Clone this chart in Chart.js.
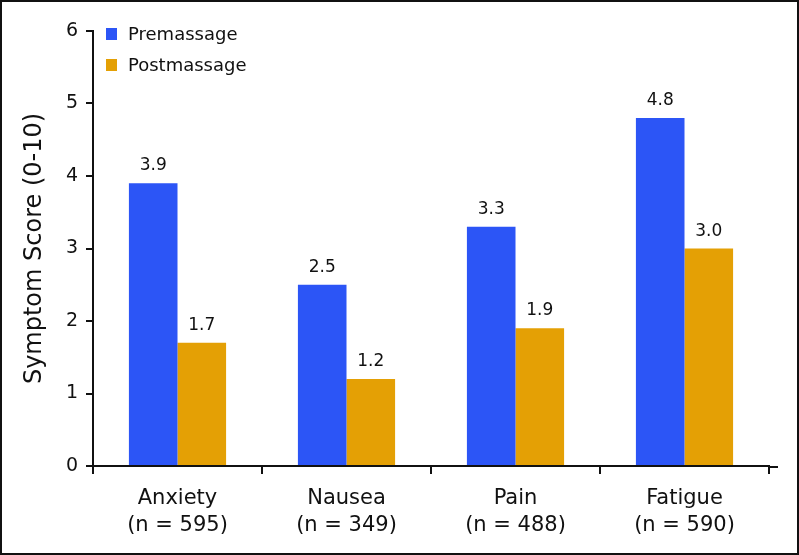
<!DOCTYPE html>
<html>
<head>
    <meta charset="utf-8">
    <title>Symptom Score</title>
    <script src="https://cdn.jsdelivr.net/npm/chart.js"></script>
    <style>
        html, body { margin: 0; padding: 0; background: #fff; }
        #wrap { width: 799px; height: 555px; }
    </style>
</head>
<body>
    <div id="wrap"><canvas id="barChart" width="799" height="555"></canvas></div>

    <script>
      // adatok
      const categories = [['Anxiety', '(n = 595)'], ['Nausea', '(n = 349)'], ['Pain', '(n = 488)'], ['Fatigue', '(n = 590)']];
      const premassage = [3.9, 2.5, 3.3, 4.8];
      const postmassage = [1.7, 1.2, 1.9, 3.0];
      const yTicks = [0, 1, 2, 3, 4, 5, 6];

      const FONT = "'DejaVu Sans', sans-serif";

      // ertekek a oszlopok folott
      const valueLabels = {
        id: 'valueLabels',
        afterDatasetsDraw(chart) {
          const ctx = chart.ctx;
          ctx.save();
          ctx.font = '17px ' + FONT;
          ctx.fillStyle = '#111';
          ctx.textAlign = 'center';
          ctx.textBaseline = 'alphabetic';
          chart.data.datasets.forEach((ds, i) => {
            chart.getDatasetMeta(i).data.forEach((bar, j) => {
              ctx.fillText(ds.data[j].toFixed(1), bar.x, bar.y - 13);
            });
          });
          ctx.restore();
        }
      };

      // jelmagyarazat a diagramon belul + keret
      const insideLegend = {
        id: 'insideLegend',
        afterDraw(chart) {
          const ctx = chart.ctx;
          const area = chart.chartArea;
          ctx.save();
          ctx.font = '18px ' + FONT;
          ctx.textBaseline = 'middle';
          chart.data.datasets.forEach((ds, i) => {
            const y = 34 + i * 31;
            ctx.fillStyle = ds.backgroundColor;
            ctx.fillRect(area.left + 13, y - 6, 11, 12);
            ctx.fillStyle = '#111';
            ctx.fillText(ds.label, area.left + 35, y + 1);
          });
          // x tengely kicsit tovabb megy
          ctx.strokeStyle = '#111';
          ctx.lineWidth = 2;
          ctx.beginPath();
          ctx.moveTo(area.right - 1, area.bottom + 1);
          ctx.lineTo(area.right + 9, area.bottom + 1);
          ctx.stroke();
          // keret
          ctx.strokeRect(1, 1, 797, 553);
          ctx.restore();
        }
      };

      const ctx = document.getElementById('barChart').getContext('2d');
      new Chart(ctx, {
        type: 'bar',
        data: {
          labels: categories,
          datasets: [
            { label: 'Premassage', data: premassage, backgroundColor: '#2c55f6' },
            { label: 'Postmassage', data: postmassage, backgroundColor: '#e4a005' }
          ]
        },
        options: {
          responsive: false,
          animation: false,
          events: [],
          layout: { padding: { top: 31, right: 30, bottom: 0, left: 0 } },
          categoryPercentage: 0.575,
          barPercentage: 1.0,
          plugins: {
            legend: { display: false },
            tooltip: { enabled: false }
          },
          scales: {
            x: {
              offset: true,
              grid: {
                offset: true,
                drawOnChartArea: false,
                drawTicks: true,
                tickLength: 8,
                color: '#111',
                lineWidth: 2
              },
              border: { display: true, color: '#111', width: 2 },
              ticks: {
                color: '#111',
                font: { family: FONT, size: 21, lineHeight: 1.29 },
                padding: 11,
                maxRotation: 0
              },
              afterFit(scale) { scale.height = 89; }
            },
            y: {
              min: 0,
              max: 6,
              afterBuildTicks(scale) { scale.ticks = yTicks.map(v => ({ value: v })); },
              grid: {
                drawOnChartArea: false,
                drawTicks: true,
                tickLength: 7,
                color: '#111',
                lineWidth: 2
              },
              border: { display: true, color: '#111', width: 2 },
              ticks: {
                color: '#111',
                font: { family: FONT, size: 19 },
                padding: 8
              },
              title: {
                display: true,
                text: 'Symptom Score (0-10)',
                color: '#111',
                font: { family: FONT, size: 24 },
                padding: { top: 20, bottom: 0 }
              },
              afterFit(scale) { scale.width = 93; }
            }
          }
        },
        plugins: [valueLabels, insideLegend]
      });
    </script>
</body>
</html>
